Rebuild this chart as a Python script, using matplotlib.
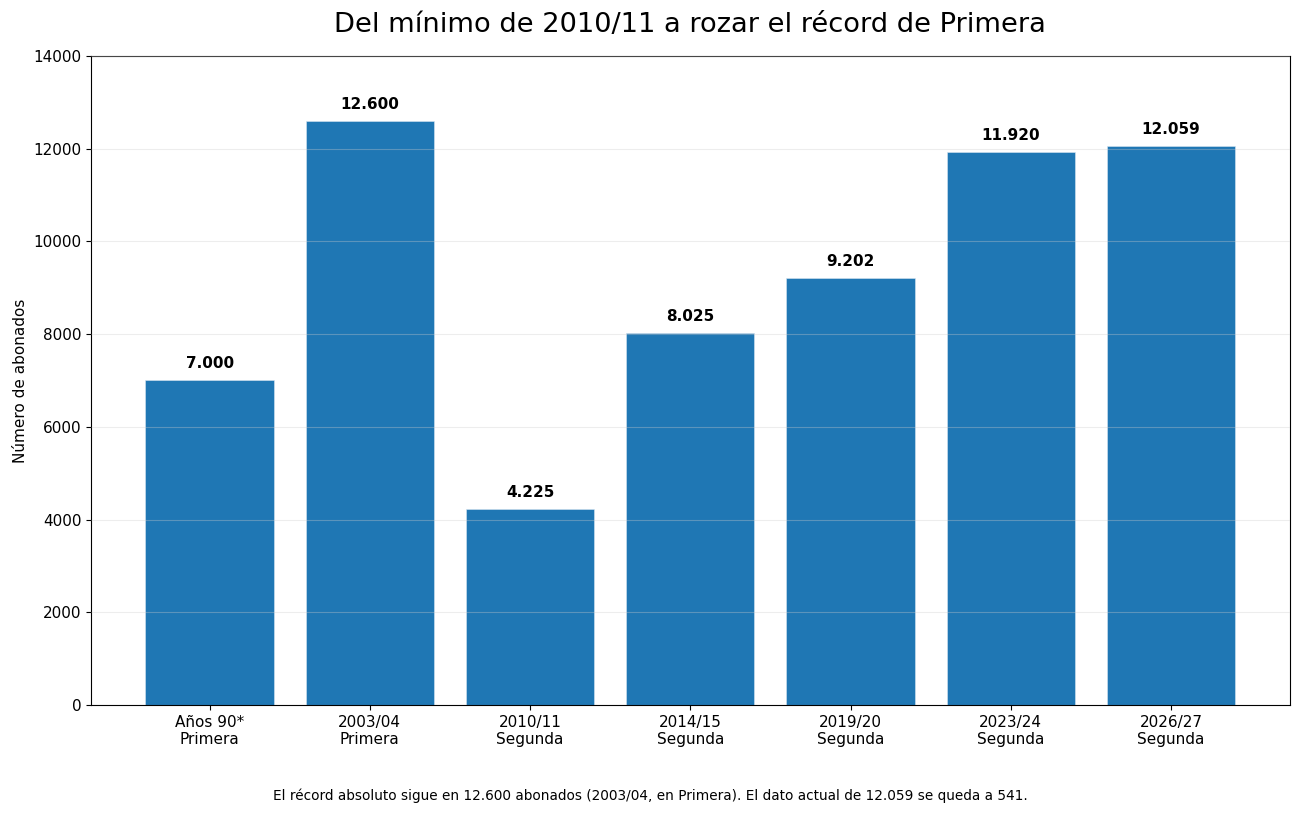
import matplotlib.pyplot as plt
import numpy as np

plt.rcParams['font.family'] = 'DejaVu Sans'

temporadas = ['Años 90*\nPrimera', '2003/04\nPrimera', '2010/11\nSegunda', '2014/15\nSegunda',
              '2019/20\nSegunda', '2023/24\nSegunda', '2026/27\nSegunda']
abonados = [7000, 12600, 4225, 8025, 9202, 11920, 12059]
etiquetas = ['7.000', '12.600', '4.225', '8.025', '9.202', '11.920', '12.059']

fig, ax = plt.subplots(figsize=(13, 8.13), dpi=100)
fig.subplots_adjust(left=0.07, right=0.992, top=0.931, bottom=0.133)

x = np.arange(len(temporadas))
ax.bar(x, abonados, width=0.8, color='#1f77b4', edgecolor='#d8e6f2', linewidth=0.4)
for xi, v, t in zip(x, abonados, etiquetas):
    ax.text(xi, v + 200, t, ha='center', va='bottom', fontsize=11, fontweight='bold')

ax.set_ylim(0, 14000)
ax.set_yticks(range(0, 14001, 2000))
ax.set_xticks(x)
ax.set_xticklabels(temporadas, fontsize=11)
ax.tick_params(axis='y', labelsize=11)
ax.set_ylabel('Número de abonados', fontsize=11)
ax.grid(axis='y', color='#cccccc', alpha=0.35, lw=0.8)
ax.set_axisbelow(False)
ax.set_title('Del mínimo de 2010/11 a rozar el récord de Primera', fontsize=19.6, pad=17)

fig.text(0.5, 0.016, 'El récord absoluto sigue en 12.600 abonados (2003/04, en Primera). '
         'El dato actual de 12.059 se queda a 541.', ha='center', fontsize=9.85)

fig.savefig('out.png', dpi=100)
